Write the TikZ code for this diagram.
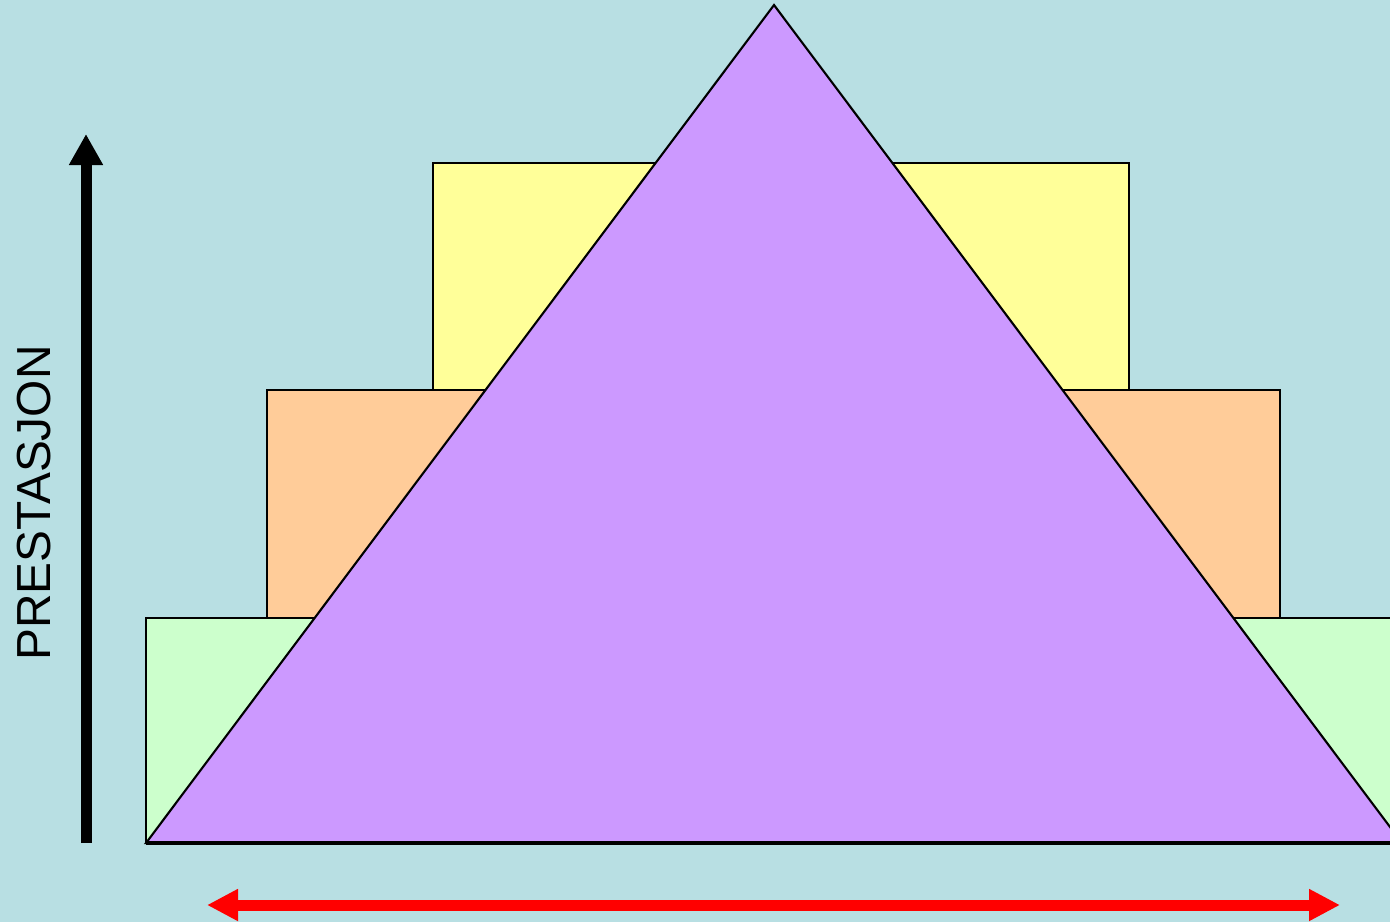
\documentclass[tikz,border=0pt]{standalone}
\usepackage{fontspec}
\setmainfont{Liberation Sans}
\usepackage{xcolor}
\usepackage{tikz}
\usetikzlibrary{arrows.meta}
\definecolor{PyrBack}{HTML}{B8DFE3}
\definecolor{PyrPurple}{HTML}{CC99FF}
\definecolor{PyrYellow}{HTML}{FFFF99}
\definecolor{PyrOrange}{HTML}{FFCC99}
\definecolor{PyrGreen}{HTML}{CCFFCC}
\tikzset{
  level/.style={draw=black,line width=0.6pt},
  axisarrow/.style={line width=0.11cm,-{Triangle[length=0.31cm,width=0.32cm]}},
}

\begin{document}
\begin{tikzpicture}[x=0.1mm,y=-0.1mm]
        \fill[PyrBack] (0,0) rectangle (1390,922);
        \useasboundingbox (0,0) rectangle (1390,922);
        \clip (0,0) rectangle (1390,922);
        % levels behind the pyramid
        \filldraw[level,fill=PyrGreen]  (146,618) rectangle (1420,843);
        \filldraw[level,fill=PyrOrange] (267,390) rectangle (1280,618);
        \filldraw[level,fill=PyrYellow] (433,163) rectangle (1129,390);
        \filldraw[level,fill=PyrPurple]
          (146,843) -- (774,5) -- (1402,843) -- cycle;
        \draw[line width=1.1pt] (146,843) -- (1420,843);
        % axes
        \coordinate (ybot) at (86,843);
        \coordinate (ytop) at (86,134);
        \draw[axisarrow] (ybot) -- (ytop);
        \node[rotate=90,font=\fontsize{13.6}{16}\selectfont] (ylab)
          at (34,503) {PRESTASJON};
        \coordinate (xl) at (207,905);
        \coordinate (xr) at (1340,905);
        \draw[red,line width=0.11cm,
          {Triangle[length=0.31cm,width=0.30cm]}-{Triangle[length=0.31cm,width=0.30cm]}]
          (xl) -- (xr);
      \end{tikzpicture}
\end{document}
